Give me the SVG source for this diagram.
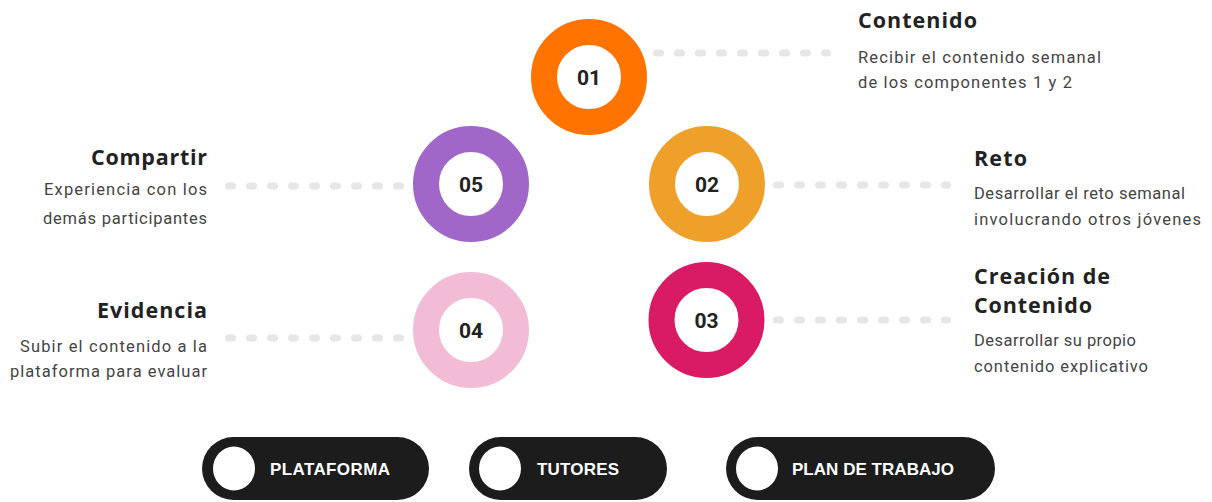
<svg xmlns="http://www.w3.org/2000/svg" width="1212" height="502" viewBox="0 0 1212 502">
<style>
.ring{fill:none;stroke-width:26}
.num{font-family:Roboto,"Liberation Sans",sans-serif;font-weight:700;font-size:21px;fill:#222;text-anchor:middle}
.ttl{font-family:"Open Sans","Liberation Sans",sans-serif;font-weight:700;font-size:21.5px;fill:#222}
.dsc{font-family:Roboto,"Liberation Sans",sans-serif;font-size:16.5px;fill:#444}
.end{text-anchor:end}
.dots{stroke:#e6e6e6;stroke-width:7;stroke-linecap:round;stroke-dasharray:4 17;fill:none}
.pill{fill:#1c1c1c}
.hole{fill:#fff}
.btn{font-family:"Liberation Sans",Arial,sans-serif;font-weight:700;font-size:17px;fill:#fff}
</style>
<rect width="1212" height="502" fill="#fff"/>
<g id="connectors">
<line class="dots" x1="656.5" y1="53" x2="827.5" y2="53"/>
<line class="dots" x1="228.5" y1="186" x2="402.5" y2="186"/>
<line class="dots" x1="776.5" y1="185" x2="947.5" y2="185"/>
<line class="dots" x1="776.5" y1="320" x2="947.5" y2="320"/>
<line class="dots" x1="228.5" y1="338" x2="402.5" y2="338"/>
</g>
<g id="node-01">
<circle class="ring" cx="589" cy="77" r="45" stroke="#ff7300"/>
<text class="num" x="589" y="84.5">01</text>
<text class="ttl" x="858" y="28" textLength="119">Contenido</text>
<text class="dsc" x="858" y="63" textLength="243">Recibir el contenido semanal</text>
<text class="dsc" x="858" y="88" textLength="214">de los componentes 1 y 2</text>
</g>
<g id="node-02">
<circle class="ring" cx="707" cy="184" r="45" stroke="#efa02a"/>
<text class="num" x="707" y="191.5">02</text>
<text class="ttl" x="974" y="166" textLength="53">Reto</text>
<text class="dsc" x="974" y="198.5" textLength="211">Desarrollar el reto semanal</text>
<text class="dsc" x="974" y="224.5" textLength="227">involucrando otros jóvenes</text>
</g>
<g id="node-03">
<circle class="ring" cx="706.5" cy="320" r="45" stroke="#d91a65"/>
<text class="num" x="706.5" y="327.5">03</text>
<text class="ttl" x="974" y="284" textLength="136">Creación de</text>
<text class="ttl" x="974" y="313" textLength="118">Contenido</text>
<text class="dsc" x="974" y="345.5" textLength="162">Desarrollar su propio</text>
<text class="dsc" x="974" y="371.5" textLength="174">contenido explicativo</text>
</g>
<g id="node-04">
<circle class="ring" cx="471" cy="330" r="45" stroke="#f2bcd6"/>
<text class="num" x="471" y="337.5">04</text>
<text class="ttl end" x="207" y="318" textLength="110">Evidencia</text>
<text class="dsc end" x="207" y="351.5" textLength="187">Subir el contenido a la</text>
<text class="dsc end" x="207" y="376.5" textLength="197">plataforma para evaluar</text>
</g>
<g id="node-05">
<circle class="ring" cx="471" cy="184" r="45" stroke="#a066c8"/>
<text class="num" x="471" y="191.5">05</text>
<text class="ttl end" x="207" y="165" textLength="116">Compartir</text>
<text class="dsc end" x="207" y="194.5" textLength="163">Experiencia con los</text>
<text class="dsc end" x="207" y="223.5" textLength="164">demás participantes</text>
</g>
<g id="btn-plataforma">
<rect class="pill" x="202" y="437" width="227" height="63" rx="31.5"/>
<ellipse class="hole" cx="234" cy="468.5" rx="21" ry="22"/>
<text class="btn" x="270" y="474.5" textLength="120">PLATAFORMA</text>
</g>
<g id="btn-tutores">
<rect class="pill" x="469" y="437" width="198" height="63" rx="31.5"/>
<ellipse class="hole" cx="500" cy="468.5" rx="21" ry="22"/>
<text class="btn" x="537" y="474.5" textLength="82">TUTORES</text>
</g>
<g id="btn-plan">
<rect class="pill" x="726" y="437" width="269" height="63" rx="31.5"/>
<ellipse class="hole" cx="757" cy="468.5" rx="21" ry="22"/>
<text class="btn" x="792" y="474.5" textLength="162">PLAN DE TRABAJO</text>
</g>
</svg>
